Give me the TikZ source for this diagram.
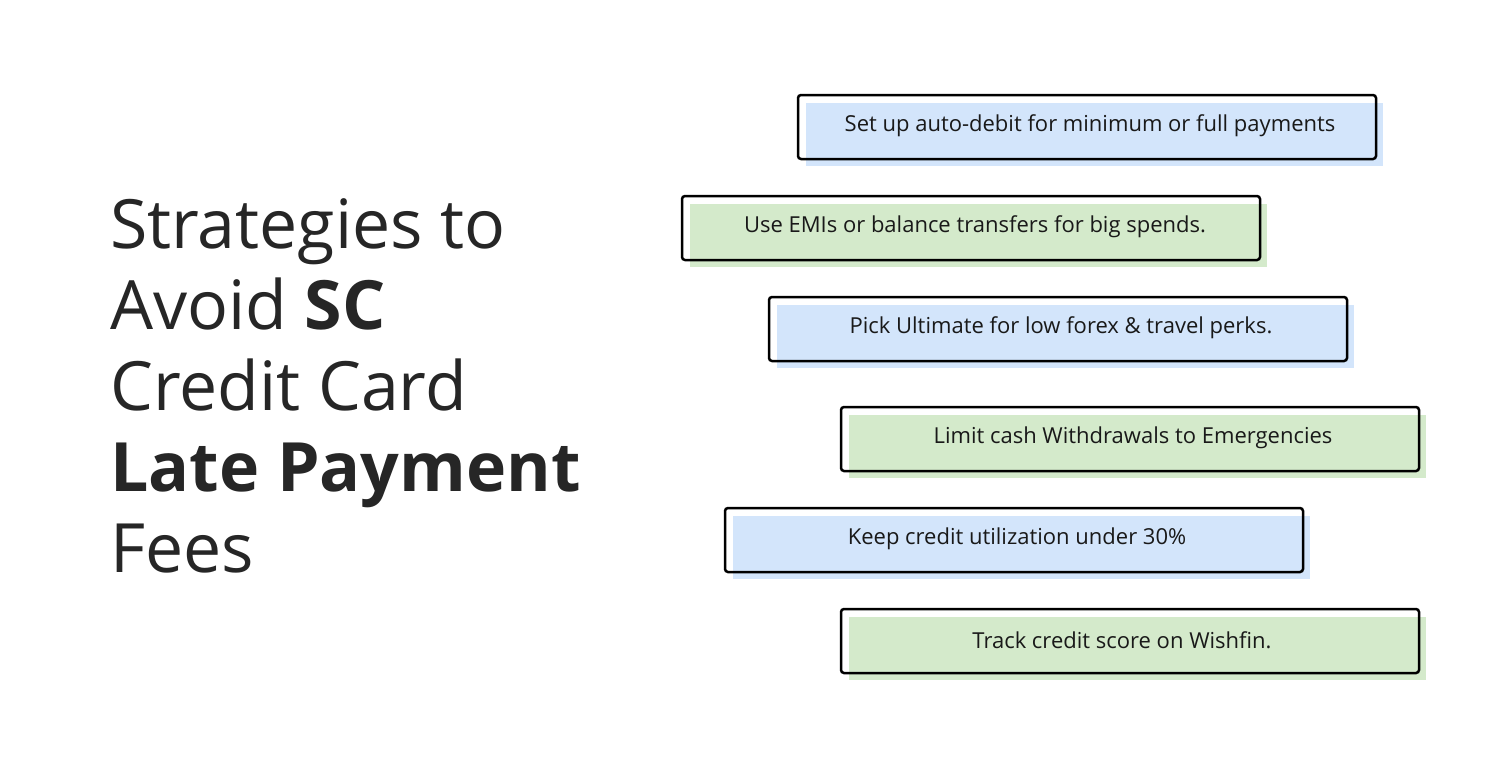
\documentclass[tikz,border=0pt]{standalone}
\usepackage{fontspec}
\setmainfont{Open Sans}
\begin{document}
\begin{tikzpicture}[x=1pt,y=-1pt,
 tip/.style={font=\fontsize{22}{26}\selectfont, text=black!90},
 title/.style={font=\fontsize{68}{80}\selectfont, text=black!85, anchor=base west, inner sep=0pt}]
\definecolor{bl}{HTML}{D3E5FB}
\definecolor{gr}{HTML}{D4EACB}
\useasboundingbox[fill=white] (0,0) rectangle (1500,779);
\foreach \n/\x/\y/\c/\tx/\t in {
 a/798/95/bl/1090/{Set up auto-debit for minimum or full payments},
 b/682/196/gr/975/{Use EMIs or balance transfers for big spends.},
 c/769/297/bl/1061/{Pick Ultimate for low forex \& travel perks.},
 d/841/407/gr/1133/{Limit cash Withdrawals to Emergencies},
 e/725/508/bl/1017/{Keep credit utilization under 30\%},
 f/841/609/gr/1122/{Track credit score on Wishfin.}}{
 \fill[\c] (\x+8,\y+8) rectangle +(577,63);
 \draw[line width=2.5pt, rounded corners=3pt] (\x,\y) rectangle +(578,64);
 \node[tip] (\n) at (\tx,\y+31) {\t};
}
\node[title] (t1) at (110,248) {Strategies to};
\node[title] (t2) at (110,329) {Avoid \textbf{SC}};
\node[title] (t3) at (110,410) {Credit Card};
\node[title] (t4) at (110,491) {\textbf{Late Payment}};
\node[title] (t5) at (110,572) {Fees};
\end{tikzpicture}
\end{document}
